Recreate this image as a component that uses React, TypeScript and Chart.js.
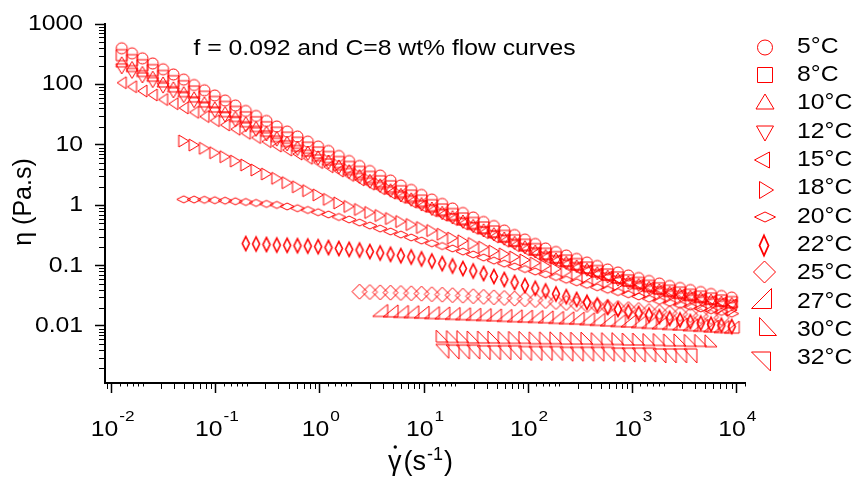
import React, { useEffect, useRef } from 'react';
import { Chart, registerables } from 'chart.js';

Chart.register(...registerables);

// ---------------- data ----------------
const shearRate = [
  0.01247, 0.01568, 0.01971, 0.02477, 0.03114, 0.03915, 0.04919, 0.06183, 0.07774, 0.0977,
  0.1228, 0.1543, 0.194, 0.2438, 0.3065, 0.3853, 0.4843, 0.6087, 0.7651, 0.9618,
  1.209, 1.52, 1.91, 2.401, 3.018, 3.793, 4.768, 5.994, 7.534, 9.469,
  11.9, 14.96, 18.8, 23.64, 29.71, 37.35, 46.94, 59.0, 74.18, 93.22,
  117.2, 147.3, 185.1, 232.7, 292.5, 367.6, 462.1, 580.8, 730.2, 917.8,
  1153, 1450, 1822, 2291, 2880, 3620, 4550, 5719, 7188, 9035,
];

const seriesLabels = ['5°C', '8°C', '10°C', '12°C', '15°C', '18°C', '20°C', '22°C', '25°C', '27°C', '30°C', '32°C'];
const seriesStart = [0, 0, 0, 0, 0, 6, 6, 12, 23, 25, 31, 31];

const eta5C = [
  396, 327, 270, 222, 178, 146, 120, 97.7, 79.9, 65.5,
  54.1, 44.7, 36.3, 30.0, 24.8, 20.1, 16.6, 13.7, 11.3, 9.37,
  7.90, 6.53, 5.39, 4.46, 3.68, 3.10, 2.56, 2.12, 1.79, 1.48,
  1.24, 1.05, 0.882, 0.743, 0.626, 0.527, 0.452, 0.381, 0.321, 0.270,
  0.228, 0.192, 0.168, 0.147, 0.129, 0.1125, 0.0985, 0.0862, 0.0769, 0.0686,
  0.0623, 0.0556, 0.0505, 0.0460, 0.0426, 0.0394, 0.0365, 0.0339, 0.0314, 0.0296,
];
const eta8C = [
  305, 252, 208, 172, 138, 113, 93.2, 76.0, 62.3, 51.2,
  42.3, 35.0, 28.5, 23.6, 19.5, 15.8, 13.1, 10.8, 8.95, 7.43,
  6.27, 5.19, 4.29, 3.56, 2.94, 2.48, 2.05, 1.70, 1.44, 1.19,
  0.999, 0.847, 0.713, 0.602, 0.508, 0.428, 0.367, 0.310, 0.262, 0.221,
  0.187, 0.157, 0.138, 0.121, 0.106, 0.0927, 0.0813, 0.0712, 0.0637, 0.0569,
  0.0517, 0.0462, 0.0420, 0.0384, 0.0356, 0.0329, 0.0306, 0.0284, 0.0264, 0.0249,
];
const eta10C = [
  237, 198, 164, 137, 110, 91.4, 75.8, 62.2, 51.4, 42.4,
  35.4, 29.5, 24.1, 20.1, 16.8, 13.7, 11.4, 9.49, 7.90, 6.60,
  5.61, 4.66, 3.88, 3.22, 2.68, 2.27, 1.88, 1.57, 1.33, 1.11,
  0.934, 0.795, 0.672, 0.569, 0.482, 0.408, 0.352, 0.298, 0.253, 0.214,
  0.181, 0.153, 0.134, 0.118, 0.103, 0.0905, 0.0794, 0.0696, 0.0622, 0.0556,
  0.0506, 0.0453, 0.0412, 0.0376, 0.0348, 0.0323, 0.0300, 0.0279, 0.0259, 0.0245,
];
const eta12C = [
  181, 152, 128, 107, 86.9, 72.4, 60.4, 49.9, 41.4, 34.5,
  28.9, 24.2, 19.9, 16.7, 14.0, 11.5, 9.61, 8.03, 6.71, 5.63,
  4.81, 4.01, 3.34, 2.78, 2.31, 1.97, 1.64, 1.37, 1.16, 0.968,
  0.817, 0.697, 0.590, 0.501, 0.425, 0.360, 0.311, 0.264, 0.224, 0.190,
  0.162, 0.137, 0.120, 0.105, 0.0924, 0.0807, 0.0707, 0.0621, 0.0554, 0.0496,
  0.0451, 0.0404, 0.0367, 0.0335, 0.0311, 0.0288, 0.0268, 0.0249, 0.0231, 0.0218,
];
const eta15C = [
  106.7, 91.6, 77.7, 66.8, 56.2, 47.9, 40.7, 34.5, 29.4, 25.1,
  21.3, 18.1, 15.5, 13.2, 11.3, 9.55, 8.20, 7.04, 5.98, 5.09,
  4.34, 3.68, 3.11, 2.63, 2.23, 1.88, 1.59, 1.35, 1.14, 0.963,
  0.814, 0.688, 0.582, 0.492, 0.416, 0.352, 0.297, 0.253, 0.214, 0.183,
  0.156, 0.136, 0.119, 0.105, 0.0927, 0.0820, 0.0729, 0.0650, 0.0582, 0.0523,
  0.0472, 0.0427, 0.0389, 0.0355, 0.0325, 0.0299, 0.0276, 0.0255, 0.0238, 0.0223,
];
const eta18C = [
  11.56, 9.92, 8.75, 7.40, 6.35, 5.39, 4.63, 3.83, 3.29, 2.79,
  2.36, 2.02, 1.74, 1.48, 1.25, 1.09, 0.952, 0.849, 0.757, 0.675,
  0.602, 0.537, 0.479, 0.427, 0.381, 0.331, 0.286, 0.257, 0.232, 0.202,
  0.174, 0.156, 0.139, 0.124, 0.110, 0.0989, 0.0885, 0.0796, 0.0715, 0.0645,
  0.0582, 0.0527, 0.0477, 0.0434, 0.0394, 0.0360, 0.0329, 0.0301, 0.0276, 0.0254,
  0.0233, 0.0215, 0.0199, 0.0184,
];
const eta20C = [
  1.25, 1.24, 1.23, 1.21, 1.19, 1.16, 1.13, 1.09, 1.05, 1.01,
  0.952, 0.892, 0.833, 0.766, 0.702, 0.638, 0.580, 0.517, 0.461, 0.411,
  0.367, 0.327, 0.292, 0.260, 0.234, 0.211, 0.192, 0.171, 0.153, 0.136,
  0.121, 0.108, 0.0966, 0.0878, 0.0798, 0.0718, 0.0648, 0.0584, 0.0529, 0.0481,
  0.0437, 0.0399, 0.0365, 0.0335, 0.0308, 0.0283, 0.0261, 0.0242, 0.0224, 0.0209,
  0.0195, 0.0182, 0.0171, 0.0160,
];
const eta22C = [
  0.232, 0.228, 0.224, 0.219, 0.217, 0.214, 0.211, 0.206, 0.199, 0.192,
  0.186, 0.181, 0.171, 0.162, 0.154, 0.146, 0.139, 0.129, 0.119, 0.108,
  0.0985, 0.0895, 0.0814, 0.0740, 0.0660, 0.0589, 0.0525, 0.0468, 0.0421, 0.0380,
  0.0339, 0.0306, 0.0275, 0.0247, 0.0223, 0.0204, 0.0188, 0.0173, 0.0162, 0.0152,
  0.0143, 0.0134, 0.0126, 0.0118, 0.0112, 0.0107, 0.0103, 0.0098,
];
const eta25C = [
  0.0370, 0.0365, 0.0361, 0.0356, 0.0352, 0.0348, 0.0343, 0.0336, 0.0330, 0.0324,
  0.0318, 0.0311, 0.0304, 0.0298, 0.0291, 0.0284, 0.0277, 0.0269, 0.0259, 0.0250,
  0.0240, 0.0231, 0.0223, 0.0214, 0.0206, 0.0199, 0.0191, 0.0184, 0.0177, 0.0171,
  0.0164, 0.0158, 0.0152, 0.0146, 0.0141, 0.0136,
];
const eta27C = [
  0.0181, 0.0178, 0.0175, 0.0173, 0.0170, 0.0167, 0.0165, 0.0162, 0.0160, 0.0157,
  0.0155, 0.0153, 0.0150, 0.0148, 0.0146, 0.0144, 0.0142, 0.0139, 0.0137, 0.0135,
  0.0132, 0.0129, 0.0126, 0.0123, 0.0121, 0.0118, 0.0115, 0.0113, 0.0110, 0.0108,
  0.0105, 0.0103, 0.0100, 0.0098, 0.0096,
];
const eta30C = [
  0.0068, 0.0067, 0.0067, 0.0066, 0.0066, 0.0066, 0.0065, 0.0065, 0.0065, 0.0064,
  0.0064, 0.0064, 0.0063, 0.0063, 0.0063, 0.0062, 0.0062, 0.0062, 0.0061, 0.0061,
  0.0060, 0.0060, 0.0059, 0.0059, 0.0058, 0.0058, 0.0057,
];
const eta32C = [
  0.0038, 0.0037, 0.0037, 0.0037, 0.0036, 0.0036, 0.0036, 0.0036, 0.0035, 0.0035,
  0.0035, 0.0035, 0.0034, 0.0034, 0.0034, 0.0034, 0.0034, 0.0033, 0.0033, 0.0033,
  0.0033, 0.0032, 0.0032, 0.0032, 0.0032,
];
const seriesEta = [eta5C, eta8C, eta10C, eta12C, eta15C, eta18C, eta20C, eta22C, eta25C, eta27C, eta30C, eta32C];

const xMajorTicks = [0.01, 0.1, 1, 10, 100, 1000, 10000];
const xTickExponents = ['-2', '-1', '0', '1', '2', '3', '4'];
const yMajorTicks = [0.01, 0.1, 1, 10, 100, 1000];
const yTickLabels = ['0.01', '0.1', '1', '10', '100', '1000'];
const xMinorFactors = [3, 4, 5, 6, 7, 8, 9];
const xTinyFactors = [1.2, 1.4, 1.6, 1.8, 2];
const yMinorFactors = [2, 3, 4, 5, 6, 7, 8, 9];
const chartTitle = 'f = 0.092 and C=8 wt% flow curves';
const yAxisTitle = 'η (Pa.s)';

// ---------------- styles ----------------
const RED = 'rgb(255,0,0)';
const FONT = "'Liberation Sans', Arial, Helvetica, sans-serif";
const SX = 1.15; // horizontal text stretch of the original picture

// shape, width, height, lineWidth
const plotMarkers: [string, number, number, number][] = [
  ['circle', 11, 11, 1],
  ['square', 11, 11, 1],
  ['triUp', 12, 10, 1],
  ['triDown', 12, 10, 1],
  ['triLeft', 9, 12, 1],
  ['triRight', 10, 12, 1],
  ['diamond', 14, 7, 1],
  ['diamond', 7, 14, 1.6],
  ['diamond', 15, 15, 1],
  ['rtBR', 15, 12, 1],
  ['rtBL', 12, 12, 1],
  ['rtTR', 13, 14, 1],
];
// shape, width, height, lineWidth, cx, cy
const legendMarkers: [string, number, number, number, number, number][] = [
  ['circle', 15, 15, 1, 765, 47.5],
  ['square', 15, 15, 1, 765, 75],
  ['triUp', 18, 15, 1, 765, 101.5],
  ['triDown', 17, 15, 1, 765, 133.5],
  ['triLeft', 15, 16, 1, 762, 160],
  ['triRight', 14, 17, 1, 766.5, 190],
  ['diamond', 21, 10, 1, 765, 217],
  ['diamond', 9, 20, 1.8, 764, 245.5],
  ['diamond', 22, 22, 1, 764.5, 272],
  ['rtBR', 20, 20, 1, 761.5, 298.5],
  ['rtBL', 17, 18, 1, 768, 326.5],
  ['rtTR', 19, 19, 1, 761, 361.5],
];
const LEGEND_TEXT_X = 797;
const LEGEND_TEXT_TOP = 46.7;
const LEGEND_TEXT_GAP = 28.33;

function shapePath(g: CanvasRenderingContext2D, shape: string, cx: number, cy: number, w: number, h: number) {
  const l = cx - w / 2, r = cx + w / 2, t = cy - h / 2, b = cy + h / 2;
  g.beginPath();
  switch (shape) {
    case 'circle': g.arc(cx, cy, w / 2, 0, Math.PI * 2); break;
    case 'square': g.rect(l, t, w, h); break;
    case 'triUp': g.moveTo(cx, t); g.lineTo(r, b); g.lineTo(l, b); g.closePath(); break;
    case 'triDown': g.moveTo(l, t); g.lineTo(r, t); g.lineTo(cx, b); g.closePath(); break;
    case 'triLeft': g.moveTo(l, cy); g.lineTo(r, t); g.lineTo(r, b); g.closePath(); break;
    case 'triRight': g.moveTo(r, cy); g.lineTo(l, t); g.lineTo(l, b); g.closePath(); break;
    case 'diamond': g.moveTo(cx, t); g.lineTo(r, cy); g.lineTo(cx, b); g.lineTo(l, cy); g.closePath(); break;
    case 'rtBR': g.moveTo(l, b); g.lineTo(r, b); g.lineTo(r, t); g.closePath(); break;
    case 'rtBL': g.moveTo(l, t); g.lineTo(l, b); g.lineTo(r, b); g.closePath(); break;
    case 'rtTR': g.moveTo(l, t); g.lineTo(r, t); g.lineTo(r, b); g.closePath(); break;
  }
}

function makeMarker(shape: string, w: number, h: number, lw: number) {
  const c = document.createElement('canvas');
  const W = Math.ceil(w + lw + 3);
  const H = Math.ceil(h + lw + 3);
  c.width = W;
  c.height = H;
  const g = c.getContext('2d')!;
  g.strokeStyle = RED;
  g.lineWidth = lw;
  g.lineJoin = 'miter';
  shapePath(g, shape, W / 2, H / 2, w, h);
  g.stroke();
  return c;
}

function stretchText(ctx: CanvasRenderingContext2D, text: string, x: number, y: number, size: number,
  align: CanvasTextAlign, baseline: CanvasTextBaseline, sx = SX) {
  ctx.save();
  ctx.translate(x, y);
  ctx.scale(sx, 1);
  ctx.font = `${size}px ${FONT}`;
  ctx.textAlign = align;
  ctx.textBaseline = baseline;
  ctx.fillStyle = '#000';
  ctx.fillText(text, 0, 0);
  ctx.restore();
}

const decorPlugin = {
  id: 'decor',
  afterDraw(chart: any) {
    const ctx: CanvasRenderingContext2D = chart.ctx;
    const xs = chart.scales.x;
    const ys = chart.scales.y;
    const area = chart.chartArea;
    ctx.save();

    // minor ticks
    ctx.strokeStyle = '#000';
    ctx.lineWidth = 1;
    ctx.beginPath();
    for (let e = -3; e <= 4; e++) {
      const base = Math.pow(10, e);
      for (const f of xMinorFactors) {
        const v = f * base;
        if (v > xs.min && v < xs.max) {
          const px = Math.round(xs.getPixelForValue(v)) + 0.5;
          ctx.moveTo(px, area.bottom); ctx.lineTo(px, area.bottom + 6);
        }
      }
      for (const f of xTinyFactors) {
        const v = f * base;
        if (v > xs.min && v < xs.max) {
          const px = Math.round(xs.getPixelForValue(v)) + 0.5;
          ctx.moveTo(px, area.bottom); ctx.lineTo(px, area.bottom + 3.5);
        }
      }
      for (const f of yMinorFactors) {
        const v = f * base;
        if (v > ys.min && v < ys.max) {
          const py = Math.round(ys.getPixelForValue(v)) + 0.5;
          ctx.moveTo(area.left - 6, py); ctx.lineTo(area.left, py);
        }
      }
    }
    ctx.stroke();

    // y tick labels
    yMajorTicks.forEach((v, i) => {
      stretchText(ctx, yTickLabels[i], 83, ys.getPixelForValue(v), 21.5, 'right', 'middle');
    });

    // x tick labels: 10^n
    xMajorTicks.forEach((v, i) => {
      const px = xs.getPixelForValue(v);
      ctx.font = `21.5px ${FONT}`;
      const w10 = ctx.measureText('10').width * SX;
      ctx.font = `15px ${FONT}`;
      const wExp = ctx.measureText(xTickExponents[i]).width * SX;
      const total = w10 + 1 + wExp;
      const start = px - total / 2 + 1;
      stretchText(ctx, '10', start, 436, 21.5, 'left', 'alphabetic');
      stretchText(ctx, xTickExponents[i], start + w10 + 1, 421, 15, 'left', 'alphabetic');
    });

    // x axis title: gamma-dot (s^-1)
    ctx.fillStyle = '#000';
    ctx.textAlign = 'left';
    ctx.textBaseline = 'alphabetic';
    let tx = 388;
    ctx.font = `27px ${FONT}`;
    ctx.fillText('γ', tx, 469.5);
    const gw = ctx.measureText('γ').width;
    ctx.beginPath();
    ctx.arc(tx + gw / 2 + 0.5, 447, 1.7, 0, Math.PI * 2);
    ctx.fill();
    tx += gw + 2;
    ctx.fillText('(s', tx, 469.5);
    tx += ctx.measureText('(s').width + 1;
    ctx.font = `18px ${FONT}`;
    ctx.fillText('-1', tx, 459.5);
    tx += ctx.measureText('-1').width + 1;
    ctx.font = `27px ${FONT}`;
    ctx.fillText(')', tx, 469.5);

    // y axis title
    ctx.save();
    ctx.translate(24, 202);
    ctx.rotate(-Math.PI / 2);
    ctx.font = `25px ${FONT}`;
    ctx.textAlign = 'center';
    ctx.textBaseline = 'middle';
    ctx.fillText(yAxisTitle, 0, 0);
    ctx.restore();

    // in-plot title
    stretchText(ctx, chartTitle, 193.5, 55, 21.5, 'left', 'alphabetic');

    // legend
    legendMarkers.forEach((m, i) => {
      const [shape, w, h, lw, cx, cy] = m;
      ctx.save();
      ctx.strokeStyle = RED;
      ctx.lineWidth = lw;
      shapePath(ctx, shape, cx, cy, w, h);
      ctx.stroke();
      ctx.restore();
      stretchText(ctx, seriesLabels[i], LEGEND_TEXT_X, LEGEND_TEXT_TOP + i * LEGEND_TEXT_GAP, 21.5, 'left', 'middle');
    });

    ctx.restore();
  },
};

export default function App() {
  const ref = useRef<HTMLCanvasElement>(null);

  useEffect(() => {
    document.body.style.margin = '0';
    const canvas = ref.current!;
    const datasets = seriesEta.map((eta, i) => {
      const [shape, w, h, lw] = plotMarkers[i];
      return {
        label: seriesLabels[i],
        data: eta.map((y, j) => ({ x: shearRate[seriesStart[i] + j], y })),
        showLine: false,
        pointStyle: makeMarker(shape, w, h, lw),
        pointRadius: 5,
        pointHoverRadius: 5,
        borderColor: RED,
        backgroundColor: 'transparent',
        order: 11 - i,
      };
    });

    const chart = new Chart(canvas, {
      type: 'scatter',
      data: { datasets },
      options: {
        animation: false,
        responsive: false,
        devicePixelRatio: 1,
        events: [],
        layout: { padding: { left: 0, right: 110, top: 24, bottom: 0 } },
        plugins: {
          legend: { display: false },
          tooltip: { enabled: false },
          title: { display: false },
        },
        scales: {
          x: {
            type: 'logarithmic',
            position: 'bottom',
            min: 0.00862,
            max: 12120,
            afterBuildTicks: (s: any) => { s.ticks = xMajorTicks.map((v) => ({ value: v, major: true })); },
            afterFit: (s: any) => { s.height = 94; s.paddingLeft = 0; s.paddingRight = 0; },
            ticks: { display: false },
            grid: { display: true, drawOnChartArea: false, drawTicks: true, tickLength: 10, tickWidth: 1.5, tickColor: '#000' },
            border: { display: true, color: '#000', width: 2 },
            title: { display: false },
          },
          y: {
            type: 'logarithmic',
            position: 'left',
            min: 0.001138,
            max: 1000,
            afterBuildTicks: (s: any) => { s.ticks = yMajorTicks.map((v) => ({ value: v, major: true })); },
            afterFit: (s: any) => { s.width = 105; s.paddingTop = 0; s.paddingBottom = 0; },
            ticks: { display: false },
            grid: { display: true, drawOnChartArea: false, drawTicks: true, tickLength: 10, tickWidth: 1.5, tickColor: '#000' },
            border: { display: true, color: '#000', width: 2 },
            title: { display: false },
          },
        },
      },
      plugins: [decorPlugin],
    } as any);

    return () => chart.destroy();
  }, []);

  return (
    <div style={{ position: 'absolute', left: 0, top: 0, width: 855, height: 477, background: '#fff' }}>
      <canvas ref={ref} width={855} height={477} style={{ display: 'block', width: 855, height: 477 }} />
    </div>
  );
}
